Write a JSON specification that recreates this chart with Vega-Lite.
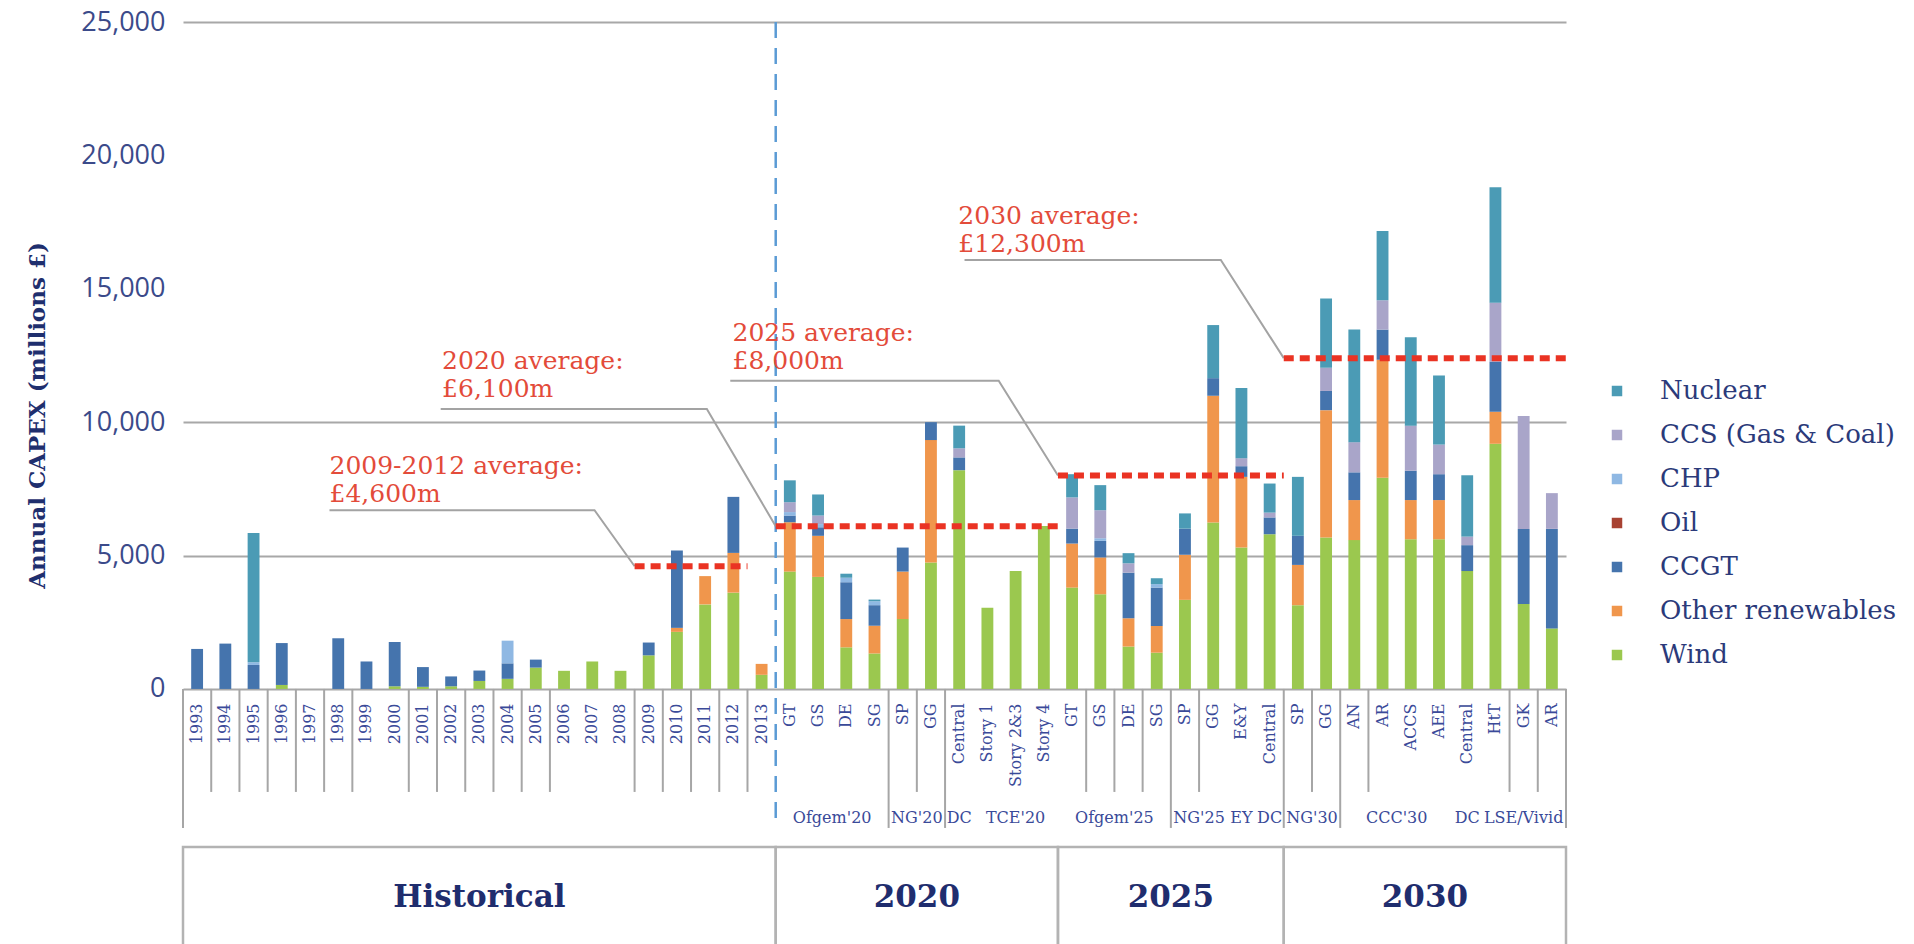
{
  "$schema": "https://vega.github.io/schema/vega-lite/v6.json",
  "width": 1383,
  "height": 922,
  "autosize": {"type": "none"},
  "padding": {"left": 183, "top": 22, "right": 348, "bottom": 0},
  "background": "white",
  "config": {"view": {"stroke": null}},
  "resolve": {"scale": {"x": "independent"}, "axis": {"x": "independent", "y": "independent"}},
  "layer": [
    {
      "data": {"values": [
        {"id": "H|1993", "CCGT": 1500},
        {"id": "H|1994", "CCGT": 1700},
        {"id": "H|1995", "CCGT": 900, "CHP": 100, "Nuclear": 4850},
        {"id": "H|1996", "Wind": 150, "CCGT": 1570},
        {"id": "H|1997", "Wind": 0},
        {"id": "H|1998", "CCGT": 1900},
        {"id": "H|1999", "CCGT": 1030},
        {"id": "H|2000", "Wind": 100, "CCGT": 1660},
        {"id": "H|2001", "Wind": 80, "CCGT": 740},
        {"id": "H|2002", "Wind": 100, "CCGT": 370},
        {"id": "H|2003", "Wind": 300, "CCGT": 390},
        {"id": "H|2004", "Wind": 380, "CCGT": 580, "CHP": 850},
        {"id": "H|2005", "Wind": 800, "CCGT": 300},
        {"id": "H|2006", "Wind": 680},
        {"id": "H|2007", "Wind": 1030},
        {"id": "H|2008", "Wind": 680},
        {"id": "H|2009", "Wind": 1260, "CCGT": 480},
        {"id": "H|2010", "Wind": 2140, "Other renewables": 150, "CCGT": 2900},
        {"id": "H|2011", "Wind": 3170, "Other renewables": 1060},
        {"id": "H|2012", "Wind": 3610, "Other renewables": 1490, "CCGT": 2100},
        {"id": "H|2013", "Wind": 530, "Other renewables": 410},
        {"id": "20|GT", "Wind": 4400, "Other renewables": 1850, "CCGT": 250, "CHP": 130, "CCS (Gas & Coal)": 370, "Nuclear": 820},
        {"id": "20|GS", "Wind": 4200, "Other renewables": 1540, "CCGT": 320, "CHP": 120, "CCS (Gas & Coal)": 320, "Nuclear": 790},
        {"id": "20|DE", "Wind": 1560, "Other renewables": 1060, "CCGT": 1380, "CHP": 170, "Nuclear": 150},
        {"id": "20|SG", "Wind": 1330, "Other renewables": 1040, "CCGT": 770, "CHP": 150, "Nuclear": 60},
        {"id": "20|SP", "Wind": 2620, "Other renewables": 1780, "CCGT": 900},
        {"id": "20|GG", "Wind": 4740, "Other renewables": 4590, "CCGT": 670},
        {"id": "20|Central", "Wind": 8200, "CCGT": 480, "CCS (Gas & Coal)": 340, "Nuclear": 850},
        {"id": "20|Story 1", "Wind": 3040},
        {"id": "20|Story 2&3", "Wind": 4420},
        {"id": "20|Story 4", "Wind": 6110},
        {"id": "25|GT", "Wind": 3800, "Other renewables": 1650, "CCGT": 560, "CCS (Gas & Coal)": 1170, "Nuclear": 870},
        {"id": "25|GS", "Wind": 3550, "Other renewables": 1380, "CCGT": 620, "CHP": 100, "CCS (Gas & Coal)": 1050, "Nuclear": 940},
        {"id": "25|DE", "Wind": 1590, "Other renewables": 1060, "CCGT": 1710, "CCS (Gas & Coal)": 350, "Nuclear": 380},
        {"id": "25|SG", "Wind": 1360, "Other renewables": 1000, "CCGT": 1440, "CHP": 130, "Nuclear": 220},
        {"id": "25|SP", "Wind": 3340, "Other renewables": 1690, "CCGT": 980, "Nuclear": 570},
        {"id": "25|GG", "Wind": 6240, "Other renewables": 4750, "CCGT": 660, "Nuclear": 1990},
        {"id": "25|E&Y", "Wind": 5300, "Other renewables": 2650, "CCGT": 400, "CCS (Gas & Coal)": 300, "Nuclear": 2630},
        {"id": "25|Central", "Wind": 5800, "CCGT": 630, "CCS (Gas & Coal)": 180, "Nuclear": 1090},
        {"id": "30|SP", "Wind": 3140, "Other renewables": 1510, "CCGT": 1090, "Nuclear": 2210},
        {"id": "30|GG", "Wind": 5680, "Other renewables": 4770, "CCGT": 720, "CCS (Gas & Coal)": 870, "Nuclear": 2600},
        {"id": "30|AN", "Wind": 5580, "Other renewables": 1500, "CCGT": 1040, "CCS (Gas & Coal)": 1130, "Nuclear": 4220},
        {"id": "30a|AR", "Wind": 7920, "Other renewables": 4420, "CCGT": 1130, "CCS (Gas & Coal)": 1100, "Nuclear": 2600},
        {"id": "30|ACCS", "Wind": 5610, "Other renewables": 1470, "CCGT": 1100, "CCS (Gas & Coal)": 1690, "Nuclear": 3310},
        {"id": "30|AEE", "Wind": 5610, "Other renewables": 1470, "CCGT": 970, "CCS (Gas & Coal)": 1110, "Nuclear": 2590},
        {"id": "30|Central", "Wind": 4420, "CCGT": 970, "CCS (Gas & Coal)": 320, "Nuclear": 2300},
        {"id": "30|HtT", "Wind": 9190, "Other renewables": 1200, "CCGT": 1880, "CCS (Gas & Coal)": 2210, "Nuclear": 4330},
        {"id": "30|GK", "Wind": 3180, "CCGT": 2820, "CCS (Gas & Coal)": 4230},
        {"id": "30b|AR", "Wind": 2270, "CCGT": 3730, "CCS (Gas & Coal)": 1340}
      ]},
      "transform": [
        {"fold": ["Wind", "Other renewables", "CCGT", "Oil", "CHP", "CCS (Gas & Coal)", "Nuclear"], "as": ["tech", "v"]},
        {"filter": "isValid(datum.v)"},
        {"calculate": "indexof(['Wind','Other renewables','CCGT','Oil','CHP','CCS (Gas & Coal)','Nuclear'], datum.tech)", "as": "ord"}
      ],
      "mark": {"type": "bar", "width": {"band": 0.42}},
      "encoding": {
        "x": {
          "field": "id", "type": "nominal", "sort": null,
          "scale": {"paddingInner": 0, "paddingOuter": 0},
          "axis": {
            "orient": "bottom", "offset": -255, "title": null, "domain": false, "ticks": false, "grid": false,
            "labelAngle": 270, "labelAlign": "right", "labelBaseline": "middle", "labelPadding": 14,
            "labelFont": "DejaVu Serif", "labelFontSize": 16, "labelColor": "#3a4a99",
            "labelExpr": "split(datum.label, '|')[1]", "labelOverlap": false, "labelBound": false, "labelFlush": false, "labelLimit": 200
          }
        },
        "y": {
          "field": "v", "type": "quantitative", "stack": "zero",
          "scale": {"domain": [-9560, 25000], "nice": false, "zero": false},
          "axis": {
            "orient": "left",
            "values": [0, 5000, 10000, 15000, 20000, 25000], "format": ",.0f",
            "labelExpr": "format(datum.value, ',.0f')",
            "title": "Annual CAPEX (millions £)", "titleFont": "DejaVu Serif", "titleFontSize": 23, "titleFontWeight": "bold",
            "titleColor": "#1f2f6e", "titleX": -146, "titleY": 393, "titleAngle": 270, "titleAlign": "center", "titleBaseline": "middle",
            "labelFont": "Open Sans", "labelFontSize": 27, "labelColor": "#3b4a8a", "labelPadding": 18,
            "ticks": false, "domain": false, "grid": true, "gridColor": "#a8a8a8", "gridWidth": 2,
            "gridOpacity": {"condition": {"test": "datum.value == 15000 || datum.value == 20000", "value": 0}, "value": 1}
          }
        },
        "color": {
          "field": "tech", "type": "nominal",
          "scale": {
            "domain": ["Nuclear", "CCS (Gas & Coal)", "CHP", "Oil", "CCGT", "Other renewables", "Wind"],
            "range": ["#4b9bb5", "#a9a5c9", "#8fb8e3", "#a84232", "#4574ad", "#f0964c", "#9bc84f"]
          },
          "legend": {
            "title": null, "orient": "none", "legendX": 1421, "legendY": 356,
            "symbolType": "square", "symbolSize": 110, "symbolStrokeWidth": 0,
            "labelFont": "DejaVu Serif", "labelFontSize": 26, "labelColor": "#2b3a7a",
            "labelOffset": 30, "rowPadding": 18, "labelLimit": 400
          }
        },
        "order": {"field": "ord", "type": "quantitative"}
      }
    },
    {
      "layer": [
        {
          "data": {"values": [{"xi": 1}, {"xi": 2}, {"xi": 3}, {"xi": 4}, {"xi": 5}, {"xi": 6}, {"xi": 8}, {"xi": 9}, {"xi": 10}, {"xi": 11}, {"xi": 12}, {"xi": 13}, {"xi": 16}, {"xi": 17}, {"xi": 18}, {"xi": 19}, {"xi": 20}, {"xi": 26}, {"xi": 32}, {"xi": 33}, {"xi": 34}, {"xi": 36}, {"xi": 40}, {"xi": 42}, {"xi": 47}, {"xi": 48}]},
          "mark": {"type": "rule", "color": "#a6a6a6", "strokeWidth": 2},
          "encoding": {
            "x": {"field": "xi", "type": "quantitative", "scale": {"domain": [0, 49], "nice": false, "zero": false}, "axis": null},
            "y": {"datum": 0, "type": "quantitative", "axis": null},
            "y2": {"datum": -3860}
          }
        },
        {
          "data": {"values": [{"xi": 0}, {"xi": 25}, {"xi": 27}, {"xi": 35}, {"xi": 39}, {"xi": 41}, {"xi": 49}]},
          "mark": {"type": "rule", "color": "#a6a6a6", "strokeWidth": 2},
          "encoding": {
            "x": {"field": "xi", "type": "quantitative", "scale": {"domain": [0, 49], "nice": false, "zero": false}, "axis": null},
            "y": {"datum": 0, "type": "quantitative", "axis": null},
            "y2": {"datum": -5210}
          }
        },
        {
          "data": {"values": [
            {"g": "Historical", "s": 0, "e": 21},
            {"g": "2020", "s": 21, "e": 31},
            {"g": "2025", "s": 31, "e": 39},
            {"g": "2030", "s": 39, "e": 49}
          ]},
          "layer": [
            {
              "mark": {"type": "rect", "fill": "white", "fillOpacity": 0, "stroke": "#b3b3b3", "strokeWidth": 2.5},
              "encoding": {
                "x": {"field": "s", "type": "quantitative", "scale": {"domain": [0, 49], "nice": false, "zero": false}, "axis": null},
                "x2": {"field": "e"},
                "y": {"datum": -5920, "type": "quantitative", "axis": null},
                "y2": {"datum": -9800}
              }
            },
            {
              "transform": [{"calculate": "(datum.s + datum.e) / 2", "as": "mid"}],
              "mark": {"type": "text", "font": "DejaVu Serif", "fontSize": 31, "fontWeight": "bold", "color": "#1f2d6e", "align": "center", "baseline": "middle"},
              "encoding": {
                "x": {"field": "mid", "type": "quantitative", "scale": {"domain": [0, 49], "nice": false, "zero": false}, "axis": null},
                "y": {"datum": -7830, "type": "quantitative", "axis": null},
                "text": {"field": "g"}
              }
            }
          ]
        },
        {
          "data": {"values": [
            {"t": "Ofgem'20", "s": 21, "e": 25},
            {"t": "NG'20", "s": 25, "e": 27},
            {"t": "DC", "s": 27, "e": 28},
            {"t": "TCE'20", "s": 28, "e": 31},
            {"t": "Ofgem'25", "s": 31, "e": 35},
            {"t": "NG'25", "s": 35, "e": 37},
            {"t": "EY", "s": 37, "e": 38},
            {"t": "DC", "s": 38, "e": 39},
            {"t": "NG'30", "s": 39, "e": 41},
            {"t": "CCC'30", "s": 41, "e": 45},
            {"t": "DC", "s": 45, "e": 46},
            {"t": "LSE/Vivid", "s": 46, "e": 49}
          ]},
          "transform": [{"calculate": "(datum.s + datum.e) / 2", "as": "mid"}],
          "mark": {"type": "text", "font": "DejaVu Serif", "fontSize": 16, "color": "#3a4a99", "align": "center", "baseline": "middle"},
          "encoding": {
            "x": {"field": "mid", "type": "quantitative", "scale": {"domain": [0, 49], "nice": false, "zero": false}, "axis": null},
            "y": {"datum": -4835, "type": "quantitative", "axis": null},
            "text": {"field": "t"}
          }
        },
        {
          "data": {"values": [{"xi": 21}]},
          "mark": {"type": "rule", "color": "#5b9bd5", "strokeWidth": 2.5, "strokeDash": [16, 10]},
          "encoding": {
            "x": {"field": "xi", "type": "quantitative", "scale": {"domain": [0, 49], "nice": false, "zero": false}, "axis": null},
            "y": {"datum": 25000, "type": "quantitative", "axis": null},
            "y2": {"datum": -5000}
          }
        },
        {
          "data": {"values": [
            {"a": 1, "k": 0, "xi": 5.19, "y": 6700}, {"a": 1, "k": 1, "xi": 14.58, "y": 6700}, {"a": 1, "k": 2, "xi": 16, "y": 4600},
            {"a": 2, "k": 0, "xi": 9.13, "y": 10490}, {"a": 2, "k": 1, "xi": 18.56, "y": 10490}, {"a": 2, "k": 2, "xi": 21, "y": 6100},
            {"a": 3, "k": 0, "xi": 19.39, "y": 11550}, {"a": 3, "k": 1, "xi": 28.9, "y": 11550}, {"a": 3, "k": 2, "xi": 31, "y": 8000},
            {"a": 4, "k": 0, "xi": 27.69, "y": 16080}, {"a": 4, "k": 1, "xi": 36.77, "y": 16080}, {"a": 4, "k": 2, "xi": 39, "y": 12400}
          ]},
          "mark": {"type": "line", "color": "#a3a3a3", "strokeWidth": 2},
          "encoding": {
            "x": {"field": "xi", "type": "quantitative", "scale": {"domain": [0, 49], "nice": false, "zero": false}, "axis": null},
            "y": {"field": "y", "type": "quantitative", "axis": null},
            "detail": {"field": "a"},
            "order": {"field": "k", "type": "quantitative"}
          }
        },
        {
          "data": {"values": [
            {"s": 16, "e": 20, "avg": 4600},
            {"s": 21, "e": 31, "avg": 6100},
            {"s": 31, "e": 39, "avg": 8000},
            {"s": 39, "e": 49, "avg": 12400}
          ]},
          "mark": {"type": "rule", "color": "#ea3323", "strokeWidth": 6, "strokeDash": [10, 6]},
          "encoding": {
            "x": {"field": "s", "type": "quantitative", "scale": {"domain": [0, 49], "nice": false, "zero": false}, "axis": null},
            "x2": {"field": "e"},
            "y": {"field": "avg", "type": "quantitative", "axis": null}
          }
        },
        {
          "data": {"values": [
            {"t": "2009-2012 average:\n£4,600m", "xi": 5.19, "y": 8070},
            {"t": "2020 average:\n£6,100m", "xi": 9.18, "y": 11990},
            {"t": "2025 average:\n£8,000m", "xi": 19.47, "y": 13060},
            {"t": "2030 average:\n£12,300m", "xi": 27.47, "y": 17410}
          ]},
          "mark": {"type": "text", "font": "DejaVu Serif", "fontSize": 25, "lineHeight": 28, "lineBreak": "\n", "color": "#e34b3a", "align": "left", "baseline": "alphabetic"},
          "encoding": {
            "x": {"field": "xi", "type": "quantitative", "scale": {"domain": [0, 49], "nice": false, "zero": false}, "axis": null},
            "y": {"field": "y", "type": "quantitative", "axis": null},
            "text": {"field": "t"}
          }
        }
      ]
    }
  ]
}
